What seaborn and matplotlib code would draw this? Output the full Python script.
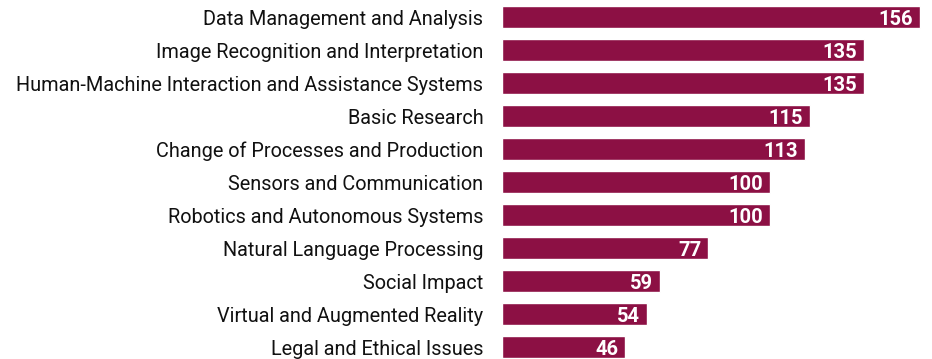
import matplotlib
matplotlib.use("Agg")
import matplotlib.pyplot as plt
import seaborn as sns
import pandas as pd

categories = [
    "Data Management and Analysis",
    "Image Recognition and Interpretation",
    "Human-Machine Interaction and Assistance Systems",
    "Basic Research",
    "Change of Processes and Production",
    "Sensors and Communication",
    "Robotics and Autonomous Systems",
    "Natural Language Processing",
    "Social Impact",
    "Virtual and Augmented Reality",
    "Legal and Ethical Issues",
]
counts = [156, 135, 135, 115, 113, 100, 100, 77, 59, 54, 46]

df = pd.DataFrame({"topic": categories, "count": counts})

sns.set_theme(style="white")
plt.rcParams["font.family"] = ["Roboto", "DejaVu Sans"]

BAR_COLOR = "#8C1044"

fig = plt.figure(figsize=(9.32, 3.59), dpi=100)
ax = fig.add_axes([502 / 932, 0, 430 / 932, 1])

sns.barplot(data=df, x="count", y="topic", orient="h", color=BAR_COLOR,
            saturation=1, width=0.68, ax=ax)

ax.set_xlim(0, 160.4)
ax.set_ylim(10.36, -0.515)
ax.set_xlabel("")
ax.set_ylabel("")
ax.set_xticks([])
for s in ax.spines.values():
    s.set_visible(False)
ax.tick_params(axis="y", length=0, pad=13.5, labelsize=14.3, labelcolor="#111111")

for i, v in enumerate(counts):
    ax.annotate(str(v), xy=(v, i), xytext=(-5, 0), textcoords="offset points",
                ha="right", va="center_baseline", color="white", fontsize=14.5,
                fontweight="bold")

fig.savefig("out.png", dpi=100)
